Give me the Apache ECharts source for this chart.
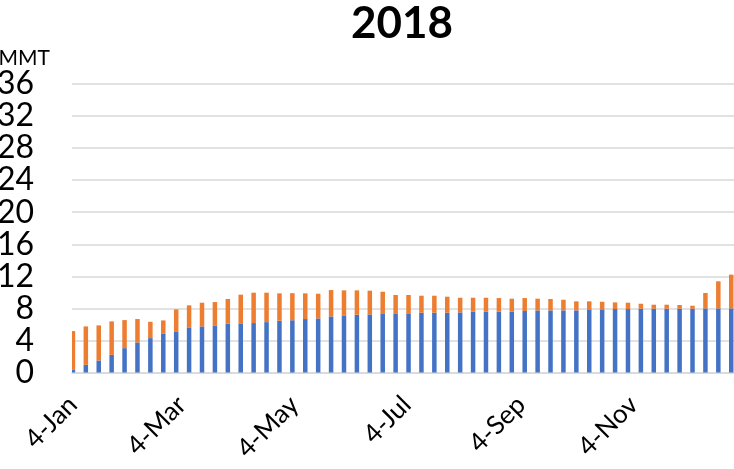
<!DOCTYPE html>
<html>
<head>
<meta charset="utf-8">
<script src="https://cdn.jsdelivr.net/npm/echarts@6/dist/echarts.min.js"></script>
<style>
html,body{margin:0;padding:0;background:#fff;}
#chart{width:734px;height:469px;}
</style>
</head>
<body>
<div id="chart"></div>
<script>
var weekDates = ['2018-01-04','2018-01-11','2018-01-18','2018-01-25','2018-02-01','2018-02-08','2018-02-15','2018-02-22',
'2018-03-01','2018-03-08','2018-03-15','2018-03-22','2018-03-29','2018-04-05','2018-04-12','2018-04-19','2018-04-26',
'2018-05-03','2018-05-10','2018-05-17','2018-05-24','2018-05-31','2018-06-07','2018-06-14','2018-06-21','2018-06-28',
'2018-07-05','2018-07-12','2018-07-19','2018-07-26','2018-08-02','2018-08-09','2018-08-16','2018-08-23','2018-08-30',
'2018-09-06','2018-09-13','2018-09-20','2018-09-27','2018-10-04','2018-10-11','2018-10-18','2018-10-25',
'2018-11-01','2018-11-08','2018-11-15','2018-11-22','2018-11-29','2018-12-06','2018-12-13','2018-12-20','2018-12-27'];

var blueValues = [0.33,0.96,1.5,2.2,3.04,3.75,4.29,4.88,5.13,5.63,5.75,5.88,6.08,6.13,6.17,6.29,6.46,6.52,6.67,6.75,
7.0,7.13,7.21,7.25,7.38,7.38,7.38,7.46,7.46,7.46,7.5,7.58,7.58,7.58,7.58,7.67,7.75,7.75,7.75,7.75,7.88,7.88,7.92,7.92,
7.96,7.96,7.96,7.96,7.96,8.0,8.0,8.0];

var orangeValues = [4.84,4.79,4.38,4.18,3.5,2.92,2.04,1.62,2.75,2.75,2.96,2.91,3.09,3.58,3.79,3.67,3.42,3.38,3.21,3.08,
3.29,3.12,3.04,2.96,2.7,2.29,2.29,2.12,2.12,2.0,1.83,1.75,1.75,1.71,1.63,1.62,1.46,1.42,1.33,1.13,1.0,0.95,0.83,0.79,
0.62,0.5,0.5,0.46,0.37,1.92,3.38,4.21];

var tickDates = ['2018-01-04','2018-03-04','2018-05-04','2018-07-04','2018-09-04','2018-11-04'];
var tickLabels = ['4-Jan','4-Mar','4-May','4-Jul','4-Sep','4-Nov'];

var yTicks = [0,4,8,12,16,20,24,28,32,36];
var titleText = '2018';
var unitText = 'MMT';

// day slots of the date axis (Jan 4 .. Dec 28, one slot per day)
var DAY_SLOTS = 359;

function dayOffset(s){
  var p = s.split('-');
  return (Date.UTC(+p[0], +p[1]-1, +p[2]) - Date.UTC(2018,0,4)) / 86400000;
}
var days = [];
for (var d = 0; d < DAY_SLOTS; d++) days.push(String(d));
var blueSlots = days.map(function(){ return null; });
var orangeSlots = days.map(function(){ return null; });
weekDates.forEach(function(s, i){
  var k = dayOffset(s);
  blueSlots[k] = blueValues[i];
  orangeSlots[k] = orangeValues[i];
});
var labelMap = {};
tickDates.forEach(function(s, i){ labelMap[String(dayOffset(s))] = tickLabels[i]; });

var FONT = 'Lato, "Open Sans", sans-serif';

var chart = echarts.init(document.getElementById('chart'), null, {renderer:'canvas'});
chart.setOption({
  animation:false,
  backgroundColor:'#fff',
  title:[{
    text:titleText, left:402, top:2, textAlign:'center', padding:0,
    textStyle:{fontFamily:FONT, fontWeight:'bold', fontSize:44, color:'#000'}
  },{
    text:unitText, left:50, top:48, textAlign:'right', padding:0,
    textStyle:{fontFamily:FONT, fontWeight:'normal', fontSize:21, color:'#000'}
  }],
  grid:{left:72, right:0, top:84, bottom:96.5, containLabel:false, outerBoundsMode:'none'},
  xAxis:{
    type:'category', data:days, boundaryGap:true,
    axisLine:{show:true, lineStyle:{color:'#d9d9d9', width:1.5}},
    axisTick:{show:false},
    splitLine:{show:false},
    axisLabel:{
      interval:function(idx, val){ return labelMap.hasOwnProperty(val); },
      rotate:45, margin:28, hideOverlap:false,
      fontFamily:FONT, fontSize:26, color:'#000',
      formatter:function(v){ return labelMap[v] || ''; }
    }
  },
  yAxis:{
    type:'value', min:yTicks[0], max:yTicks[yTicks.length-1], interval:4,
    axisLine:{show:false}, axisTick:{show:false},
    splitLine:{lineStyle:{color:'#d9d9d9', width:1.5}},
    axisLabel:{fontFamily:FONT, fontSize:32, color:'#000', margin:38}
  },
  series:[{
    name:'blue', type:'bar', stack:'total', barWidth:4.5,
    itemStyle:{color:'#4472C4'},
    data:blueSlots
  },{
    name:'orange', type:'bar', stack:'total', barWidth:4.5,
    itemStyle:{color:'#ED7D31'},
    data:orangeSlots
  }]
});
</script>
</body>
</html>
